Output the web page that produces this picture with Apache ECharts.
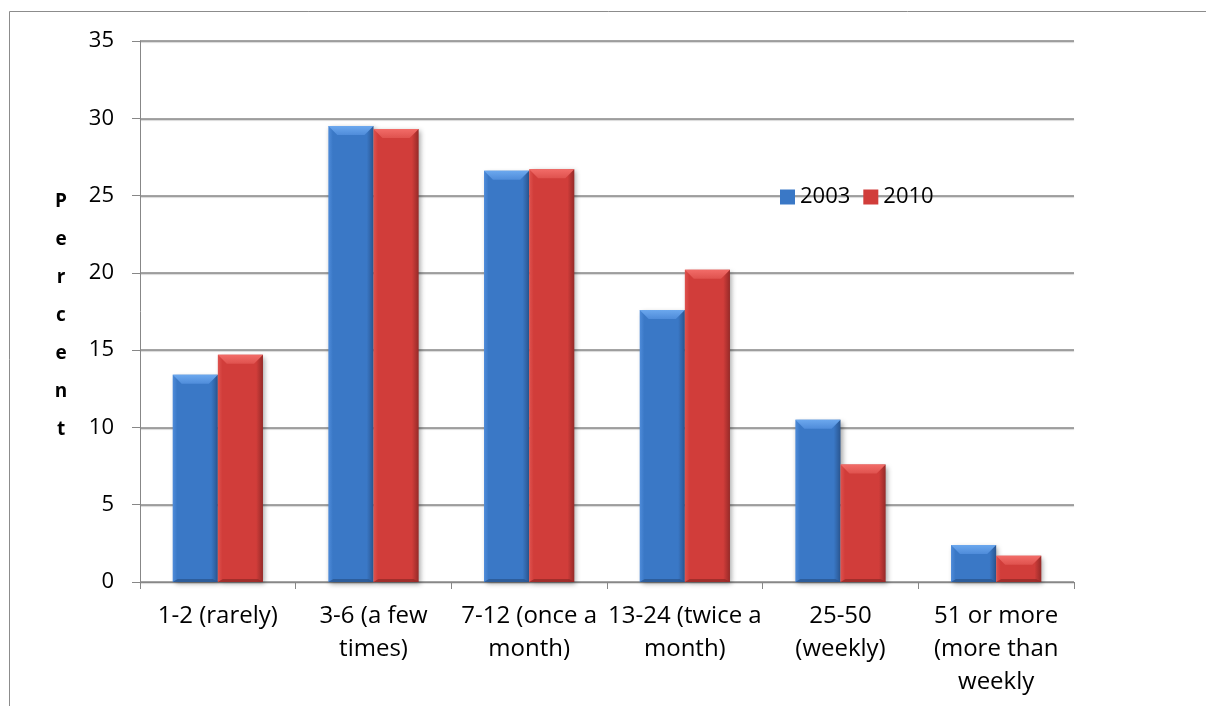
<!DOCTYPE html>
<html>
<head>
<meta charset="utf-8">
<script src="https://cdn.jsdelivr.net/npm/echarts@6/dist/echarts.min.js"></script>
<style>
  html, body { margin: 0; padding: 0; background: #fff; }
  #chart { width: 1206px; height: 706px; }
</style>
</head>
<body>
<div id="chart"></div>
<script>
// Visit frequency categories and the share of respondents (%) per survey year
const categories = [
  '1-2 (rarely)',
  '3-6 (a few\ntimes)',
  '7-12 (once a\nmonth)',
  '13-24 (twice a\nmonth)',
  '25-50\n(weekly)',
  '51 or more\n(more than\nweekly'
];
const values2003 = [13.4, 29.5, 26.6, 17.6, 10.5, 2.4];
const values2010 = [14.7, 29.3, 26.7, 20.2, 7.6, 1.7];
const seriesNames = ['2003', '2010'];
const axisTitle = 'Percent';

const FONT = '"Open Sans", "Liberation Sans", sans-serif';
const palettes = [
  { main: '#3a78c6', light: '#6ca8ee', edge: '#4f8cda', dark: '#2a5690' },
  { main: '#d13d3a', light: '#f26c68', edge: '#df524e', dark: '#952a28' }
];

// Bevelled bar: body + lighter top facet + darker bottom rim, placed side by side in each band
function bevelRenderer(seriesIndex) {
  const pal = palettes[seriesIndex];
  return function (params, api) {
    const ci = api.value(0);
    const v = api.value(1);
    const pBase = api.coord([ci, 0]);
    const pTop = api.coord([ci, v]);
    const band = api.size([1, 0])[0];
    const w = band * 0.29;
    const x0 = seriesIndex === 0 ? pBase[0] - w : pBase[0];
    const x1 = x0 + w;
    const yT = pTop[1];
    const yB = pBase[1];
    const h = yB - yT;
    const d = Math.min(9, h / 2);
    const s = Math.min(5, w / 6);
    return {
      type: 'group',
      children: [
        {
          type: 'rect',
          shape: { x: x0, y: yT, width: w, height: h },
          style: {
            fill: new echarts.graphic.LinearGradient(0, 0, 1, 0, [
              { offset: 0, color: pal.edge },
              { offset: 0.1, color: pal.main },
              { offset: 0.85, color: pal.main },
              { offset: 1, color: pal.dark }
            ]),
            shadowBlur: 5,
            shadowColor: 'rgba(0,0,0,0.35)',
            shadowOffsetX: 2,
            shadowOffsetY: 2
          }
        },
        {
          type: 'polygon',
          shape: { points: [[x0, yT], [x1, yT], [x1 - d, yT + d], [x0 + d, yT + d]] },
          style: {
            fill: new echarts.graphic.LinearGradient(0, 0, 0, 1, [
              { offset: 0, color: pal.light },
              { offset: 1, color: pal.edge }
            ])
          }
        },
        {
          type: 'polygon',
          shape: { points: [[x0, yB], [x1, yB], [x1 - s, yB - s * 0.6], [x0 + s, yB - s * 0.6]] },
          style: { fill: pal.dark, opacity: 0.8 }
        }
      ]
    };
  };
}

const chart = echarts.init(document.getElementById('chart'), null, { renderer: 'canvas' });

const option = {
  animation: false,
  backgroundColor: '#ffffff',
  textStyle: { fontFamily: FONT },
  graphic: [
    {
      type: 'rect',
      shape: { x: 9.5, y: 11.5, width: 1400, height: 900 },
      style: { fill: 'none', stroke: '#8c8c8c', lineWidth: 1 },
      z: -1
    },
    {
      // vertical, letter-stacked axis title
      type: 'text',
      style: {
        x: 61,
        y: 183,
        text: axisTitle.split('').join('\n'),
        fontFamily: FONT,
        fontSize: 19,
        fontWeight: 'bold',
        lineHeight: 38,
        fill: '#000',
        align: 'center',
        verticalAlign: 'top'
      }
    }
  ],
  legend: {
    left: 775,
    top: 181,
    itemWidth: 15,
    itemHeight: 15,
    itemGap: 13,
    icon: 'rect',
    textStyle: { fontFamily: FONT, fontSize: 22, color: '#000' },
    data: seriesNames
  },
  grid: { left: 140, right: 132, top: 41, bottom: 124, containLabel: false },
  xAxis: {
    type: 'category',
    data: categories,
    axisLine: { lineStyle: { color: '#878787', width: 1 } },
    axisTick: { show: true, length: 7, lineStyle: { color: '#878787' }, alignWithLabel: false },
    axisLabel: {
      interval: 0,
      margin: 18,
      fontFamily: FONT,
      fontSize: 24,
      lineHeight: 33,
      color: '#000'
    },
    splitLine: { show: false }
  },
  yAxis: {
    type: 'value',
    min: 0,
    max: 35,
    interval: 5,
    axisLine: { show: true, lineStyle: { color: '#878787', width: 1 } },
    axisTick: { show: true, length: 8, lineStyle: { color: '#878787' } },
    axisLabel: { margin: 26, fontFamily: FONT, fontSize: 22, color: '#000' },
    splitLine: {
      show: true,
      lineStyle: {
        color: '#878787',
        width: 1.5,
        shadowColor: 'rgba(0,0,0,0.2)',
        shadowBlur: 1,
        shadowOffsetY: 1
      }
    }
  },
  series: [values2003, values2010].map(function (vals, si) {
    return {
      name: seriesNames[si],
      type: 'custom',
      renderItem: bevelRenderer(si),
      encode: { x: 0, y: 1 },
      itemStyle: { color: palettes[si].main },
      data: vals.map(function (v, i) { return [i, v]; }),
      z: 3
    };
  })
};

chart.setOption(option);
</script>
</body>
</html>
